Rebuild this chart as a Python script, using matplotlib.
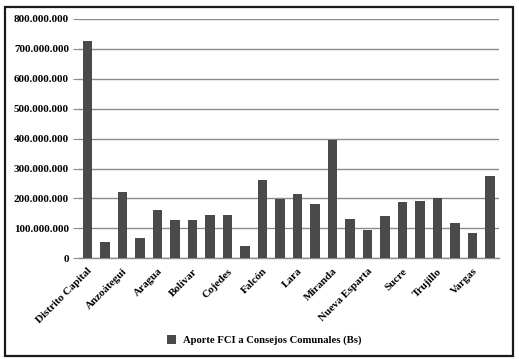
import matplotlib
matplotlib.use("Agg")
import matplotlib.pyplot as plt
from matplotlib.patches import Rectangle
from matplotlib.ticker import FuncFormatter

states = ["Distrito Capital", "Amazonas", "Anzoátegui", "Apure", "Aragua", "Barinas",
          "Bolívar", "Carabobo", "Cojedes", "Delta Amacuro", "Falcón", "Guárico",
          "Lara", "Mérida", "Miranda", "Monagas", "Nueva Esparta", "Portuguesa",
          "Sucre", "Táchira", "Trujillo", "Yaracuy", "Vargas", "Zulia"]
aporte = [726e6, 55e6, 221e6, 68e6, 161e6, 128e6, 128e6, 144e6, 144e6, 41e6,
          261e6, 199e6, 215e6, 181e6, 394e6, 131e6, 94e6, 141e6, 188e6, 191e6,
          201e6, 118e6, 84e6, 274e6]
yticks = [0, 100e6, 200e6, 300e6, 400e6, 500e6, 600e6, 700e6, 800e6]
series_name = "Aporte FCI a Consejos Comunales (Bs)"

plt.rcParams['font.family'] = ['Liberation Serif', 'DejaVu Serif']
plt.rcParams['font.weight'] = 'bold'

fig = plt.figure(figsize=(5.19, 3.63), dpi=100)
ax = fig.add_axes([78.75/519, 1 - 258.3/363, (498.75 - 78.75)/519, (258.3 - 19)/363])

x = list(range(len(states)))
ax.bar(x, aporte, width=0.57, color='#4a4a4d', zorder=3, label=series_name)
ax.set_xlim(-0.5, len(states) - 0.5)
ax.set_ylim(0, 800e6)
ax.set_yticks(yticks)
ax.yaxis.set_major_formatter(FuncFormatter(lambda v, p: f"{int(v):,}".replace(",", ".")))
ax.grid(axis='y', color='#8c8c8c', linewidth=1, zorder=0)
ax.set_axisbelow(True)
for s in ['top', 'right', 'left']:
    ax.spines[s].set_visible(False)
ax.spines['bottom'].set_color('#8c8c8c')
ax.spines['bottom'].set_linewidth(1)
ax.tick_params(axis='y', length=4, color='#8c8c8c', labelsize=8, pad=3)
ax.tick_params(axis='x', length=0, labelsize=8, pad=6)
ax.set_xticks(x[::2])
ax.set_xticklabels(states[::2], rotation=45, ha='right', rotation_mode='anchor', fontweight='bold')
for lab in ax.get_yticklabels():
    lab.set_fontweight('bold')

leg = fig.legend(loc='center', bbox_to_anchor=(264/519, 1 - 340/363), frameon=False,
                 prop={'size': 7.7, 'weight': 'bold'}, handlelength=0.9, handleheight=0.9,
                 handletextpad=0.6)

fig.patches.append(Rectangle((5/519, 1 - 355.5/363), (512.5 - 5)/519, (355.5 - 6.5)/363,
                             transform=fig.transFigure, fill=False, edgecolor='#1a1a1a',
                             linewidth=1.6))

fig.savefig("out.png", dpi=100)
